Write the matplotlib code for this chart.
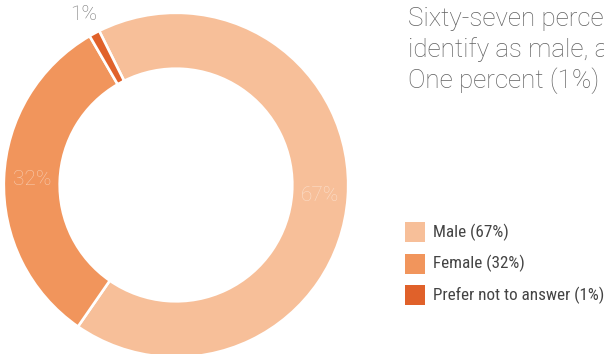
import matplotlib
matplotlib.use("Agg")
import matplotlib.pyplot as plt
from matplotlib import font_manager
from matplotlib.patches import Rectangle
import numpy as np

# Survey data
categories = ["Male", "Female", "Prefer not to answer"]
values = [67, 32, 1]
colors = ["#F7BF99", "#F1955C", "#E0612A"]
summary_lines = [
    "Sixty-seven percent (67%) of respondents",
    "identify as male, and thirty-two percent (32%)",
    "One percent (1%) preferred not to answer.",
]

W, H = 604, 354
DPI = 100


def available(name):
    try:
        font_manager.findfont(font_manager.FontProperties(family=name), fallback_to_default=False)
        return True
    except Exception:
        return False


legend_family = "Roboto Condensed" if available("Roboto Condensed") else "Roboto"
legend_size = 12.3 if legend_family == "Roboto Condensed" else 11.3

fig = plt.figure(figsize=(W / DPI, H / DPI), dpi=DPI)
fig.patch.set_facecolor("white")


def fx(px):
    return px / W


def fy(py_top):
    return 1 - py_top / H


# Donut
cx, cy, r_out, r_in = 176, 185, 171, 117.5
ax = fig.add_axes([fx(cx - r_out), fy(cy + r_out), 2 * r_out / W, 2 * r_out / H])

edge_lw = 1.9
pad = 1.2 / r_out
wedges, _ = ax.pie(
    values,
    colors=colors,
    startangle=116.5,
    counterclock=False,
    radius=1 + pad,
    wedgeprops=dict(width=(r_out - r_in) / r_out + 2 * pad, edgecolor="white", linewidth=edge_lw),
)
ax.set_xlim(-1, 1)
ax.set_ylim(-1, 1)
ax.set_aspect("equal")
ax.axis("off")

label_r = 0.842
for w, v in zip(wedges, values):
    mid = np.deg2rad((w.theta1 + w.theta2) / 2)
    if v >= 5:
        ax.text(label_r * np.cos(mid), label_r * np.sin(mid), f"{v}%",
                ha="center", va="center", family="Roboto", weight="light",
                fontsize=15, color="white", alpha=0.5)
    else:
        ax.text(1.135 * np.cos(mid), 1.135 * np.sin(mid), f"{v}%",
                ha="center", va="center", family="Roboto", weight="light",
                fontsize=15, color="#777777", clip_on=False)

# Summary text on the right, running off the edge
for i, line in enumerate(summary_lines):
    fig.text(fx(408), fy(26 + 31 * i), line, ha="left", va="baseline",
             family="Roboto", weight="light", fontsize=18.7, color="#616161")

# Legend
sw = 20
for i, (cat, v, c) in enumerate(zip(categories, values, colors)):
    top = 222 + 31.5 * i
    fig.patches.append(Rectangle((fx(405), fy(top + sw)), sw / W, sw / H,
                                 transform=fig.transFigure, facecolor=c,
                                 edgecolor="none", figure=fig))
    fig.text(fx(433), fy(top + sw / 2), f"{cat} ({v}%)", ha="left", va="center",
             family=legend_family, fontsize=legend_size, color="#444444")

fig.savefig("out.png", dpi=DPI, facecolor="white")
